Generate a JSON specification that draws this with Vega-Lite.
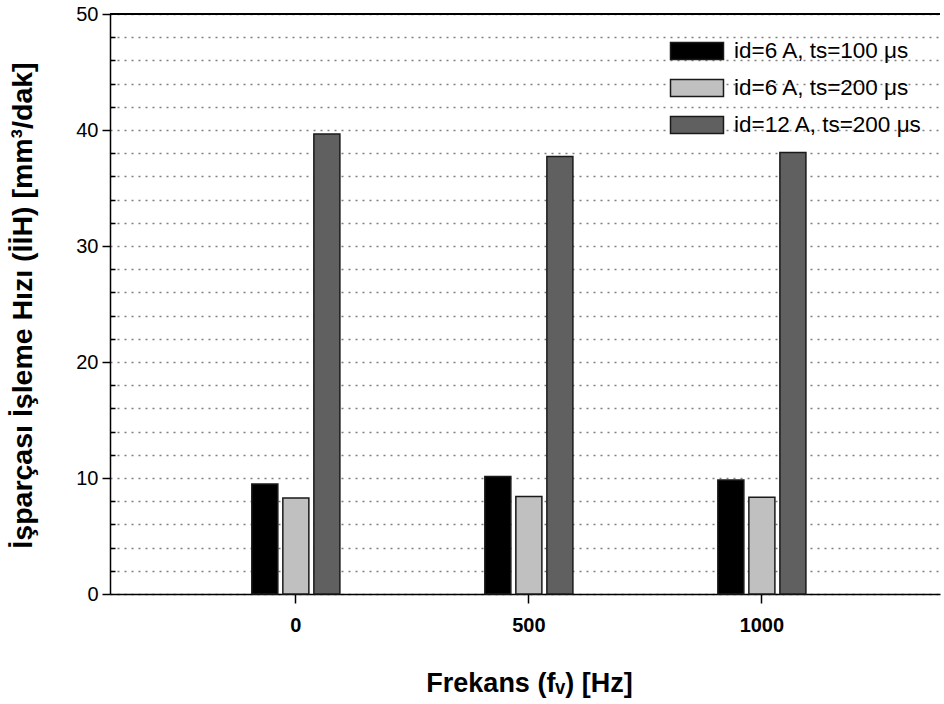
{
  "$schema": "https://vega.github.io/schema/vega-lite/v6.json",
  "autosize": {"type": "none"},
  "padding": {"left": 110, "top": 14, "right": 4, "bottom": 110},
  "width": 830,
  "height": 580,
  "config": {
    "font": "Liberation Sans",
    "view": {"stroke": null},
    "axis": {"domainColor": "#000000", "domainWidth": 1.5, "tickColor": "#000000", "tickWidth": 1.5, "labelColor": "#000000", "titleColor": "#000000"}
  },
  "data": {
    "values": [
      {"f": "0", "series": "id=6 A, ts=100 μs", "rate": 9.48},
      {"f": "0", "series": "id=6 A, ts=200 μs", "rate": 8.28},
      {"f": "0", "series": "id=12 A, ts=200 μs", "rate": 39.66},
      {"f": "500", "series": "id=6 A, ts=100 μs", "rate": 10.14},
      {"f": "500", "series": "id=6 A, ts=200 μs", "rate": 8.41},
      {"f": "500", "series": "id=12 A, ts=200 μs", "rate": 37.72},
      {"f": "1000", "series": "id=6 A, ts=100 μs", "rate": 9.83},
      {"f": "1000", "series": "id=6 A, ts=200 μs", "rate": 8.33},
      {"f": "1000", "series": "id=12 A, ts=200 μs", "rate": 38.07}
    ]
  },
  "layer": [
    {
      "mark": {"type": "bar", "stroke": "#1a1a1a", "strokeWidth": 1.5},
      "encoding": {
        "x": {
          "field": "f", "type": "nominal",
          "scale": {"domain": ["0", "500", "1000"], "paddingInner": 0.622, "paddingOuter": 0.592, "align": 0.514},
          "axis": {
            "title": "Frekans (fᵥ) [Hz]",
            "titleFontSize": 27, "titleFontWeight": "bold",
            "titleX": 419, "titleY": 89, "titleBaseline": "middle",
            "labelAngle": 0, "labelFontSize": 20, "labelFontWeight": "bold",
            "tickSize": 9, "labelPadding": 12
          }
        },
        "xOffset": {
          "field": "series", "type": "nominal",
          "scale": {"domain": ["id=6 A, ts=100 μs", "id=6 A, ts=200 μs", "id=12 A, ts=200 μs"], "paddingInner": 0.161, "paddingOuter": 0}
        },
        "y": {
          "field": "rate", "type": "quantitative",
          "scale": {"domain": [0, 50], "nice": false},
          "axis": {
            "title": "İşparçası İşleme Hızı (İİH) [mm³/dak]",
            "titleFontSize": 28.5, "titleFontWeight": "bold",
            "titleX": -88, "titleY": 291, "titleBaseline": "middle", "titleAlign": "center",
            "values": [0, 2, 4, 6, 8, 10, 12, 14, 16, 18, 20, 22, 24, 26, 28, 30, 32, 34, 36, 38, 40, 42, 44, 46, 48, 50],
            "tickCount": 60,
            "labelExpr": "datum.value % 10 === 0 ? datum.label : ''",
            "labelOverlap": false,
            "labelFontSize": 20,
            "labelPadding": 4,
            "tickSize": {"condition": {"test": "datum.value % 10 === 0", "value": 8}, "value": -5},
            "grid": true, "gridColor": "#808080", "gridDash": [2, 5], "gridWidth": 1.5
          }
        },
        "fill": {
          "field": "series", "type": "nominal",
          "scale": {"domain": ["id=6 A, ts=100 μs", "id=6 A, ts=200 μs", "id=12 A, ts=200 μs"], "range": ["#000000", "#c0c0c0", "#606060"]},
          "legend": {
            "title": null,
            "orient": "none", "legendX": 573, "legendY": 23,
            "symbolType": "M-2,-0.64H2V0.64H-2Z",
            "symbolSize": 702,
            "symbolStrokeColor": "#1a1a1a", "symbolStrokeWidth": 1.5,
            "labelFontSize": 22.5, "labelColor": "#000000", "labelOffset": 23, "labelLimit": 400,
            "rowPadding": 11
          }
        }
      }
    },
    {
      "mark": {"type": "rule", "color": "#000000", "strokeWidth": 1.5},
      "encoding": {"y": {"datum": 50}}
    }
  ]
}
